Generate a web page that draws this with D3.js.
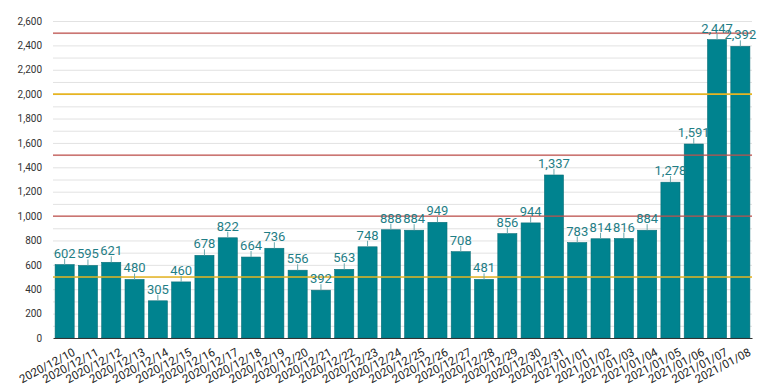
<!DOCTYPE html>
<html>
<head>
<meta charset="utf-8">
<script src="https://cdn.jsdelivr.net/npm/d3@7"></script>
<style>
  body { margin: 0; background: #fff; }
  svg { font-family: Roboto, "Noto Sans", sans-serif; }
</style>
</head>
<body>
<svg width="780" height="390"></svg>
<script>
const WIDTH = 780
const HEIGHT = 390
const LEFT = 53
const RIGHT = 752
const TOP = 21
const BOTTOM = 338

const dates = [
  "2020/12/10", "2020/12/11", "2020/12/12", "2020/12/13", "2020/12/14",
  "2020/12/15", "2020/12/16", "2020/12/17", "2020/12/18", "2020/12/19",
  "2020/12/20", "2020/12/21", "2020/12/22", "2020/12/23", "2020/12/24",
  "2020/12/25", "2020/12/26", "2020/12/27", "2020/12/28", "2020/12/29",
  "2020/12/30", "2020/12/31", "2021/01/01", "2021/01/02", "2021/01/03",
  "2021/01/04", "2021/01/05", "2021/01/06", "2021/01/07", "2021/01/08"
]
const counts = [
  602, 595, 621, 480, 305, 460, 678, 822, 664, 736,
  556, 392, 563, 748, 888, 884, 949, 708, 481, 856,
  944, 1337, 783, 814, 816, 884, 1278, 1591, 2447, 2392
]
const yTicks = [0, 200, 400, 600, 800, 1000, 1200, 1400, 1600, 1800, 2000, 2200, 2400, 2600]
const redLines = [1000, 1500, 2500]
const yellowLines = [500, 2000]

const svg = d3.select("svg")

const x = d3.scaleBand()
  .domain(dates)
  .range([LEFT, RIGHT])
  .paddingInner(0.18)
  .paddingOuter(0.09)

const y = d3.scaleLinear()
  .domain([0, 2600])
  .range([BOTTOM, TOP])

// light grid every 100
svg.append("g")
  .selectAll("line")
  .data(d3.range(100, 2601, 100))
  .join("line")
  .attr("x1", LEFT)
  .attr("x2", RIGHT)
  .attr("y1", d => y(d) + 0.5)
  .attr("y2", d => y(d) + 0.5)
  .attr("stroke", "#e2e2e2")
  .attr("stroke-width", 1)

// y axis labels
const yAxis = svg.append("g")
  .attr("transform", "translate(" + (LEFT - 8) + ",0)")
  .call(d3.axisLeft(y).tickValues(yTicks).tickSize(0).tickFormat(d3.format(",")))
yAxis.select(".domain").remove()
yAxis.selectAll("text")
  .attr("font-size", 10)
  .attr("fill", "#333")
  .attr("font-family", "Roboto, sans-serif")

// bars
svg.append("g")
  .selectAll("rect")
  .data(counts)
  .join("rect")
  .attr("x", (d, i) => x(dates[i]))
  .attr("width", x.bandwidth())
  .attr("y", d => y(d))
  .attr("height", d => BOTTOM - y(d))
  .attr("fill", "#00838f")
  .attr("stroke", "#0a6f78")
  .attr("stroke-width", 0.6)

// threshold lines
svg.append("g")
  .selectAll("line")
  .data(redLines)
  .join("line")
  .attr("x1", LEFT)
  .attr("x2", RIGHT)
  .attr("y1", d => y(d))
  .attr("y2", d => y(d))
  .attr("stroke", "#c0504d")
  .attr("stroke-width", 1.3)

svg.append("g")
  .selectAll("line")
  .data(yellowLines)
  .join("line")
  .attr("x1", LEFT)
  .attr("x2", RIGHT)
  .attr("y1", d => y(d))
  .attr("y2", d => y(d))
  .attr("stroke", "#e6b422")
  .attr("stroke-width", 1.6)

// leader lines + value labels
const labels = svg.append("g")
labels.selectAll("line")
  .data(counts)
  .join("line")
  .attr("x1", (d, i) => x(dates[i]) + x.bandwidth() / 2)
  .attr("x2", (d, i) => x(dates[i]) + x.bandwidth() / 2)
  .attr("y1", d => y(d))
  .attr("y2", d => y(d) - 6)
  .attr("stroke", "#6aa9ae")
  .attr("stroke-width", 1)

labels.selectAll("text")
  .data(counts)
  .join("text")
  .attr("x", (d, i) => x(dates[i]) + x.bandwidth() / 2)
  .attr("y", d => y(d) - 7)
  .attr("text-anchor", "middle")
  .attr("font-size", 13)
  .attr("fill", "#1f7e86")
  .text(d => d3.format(",")(d))

// x axis
const xAxis = svg.append("g")
  .attr("transform", "translate(0," + BOTTOM + ")")
  .call(d3.axisBottom(x).tickSize(0))
xAxis.select(".domain")
  .attr("stroke", "#333")
  .attr("stroke-width", 1.2)
xAxis.selectAll("text")
  .attr("font-size", 11.5)
  .attr("fill", "#222")
  .attr("font-family", "Roboto, sans-serif")
  .attr("text-anchor", "end")
  .attr("dy", "0")
  .attr("transform", "translate(10,14) rotate(-28)")
</script>
</body>
</html>
